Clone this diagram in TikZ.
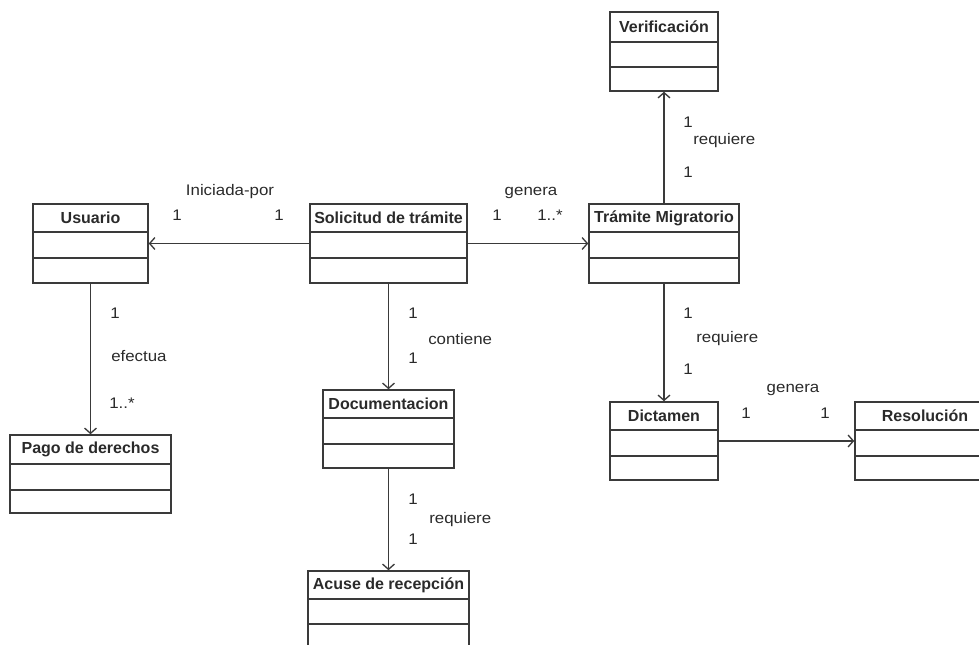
\documentclass[tikz,border=0pt]{standalone}
\usepackage{fontspec}
\setmainfont{Liberation Sans}
\newfontfamily\labelfont{Liberation Sans}[FakeStretch=1.1]
\usetikzlibrary{arrows.meta,fit}

\definecolor{linegray}{HTML}{3A3A3A}
\definecolor{textgray}{HTML}{2A2A2A}

\tikzset{
  classbox/.style={draw=linegray, line width=1.1pt, inner sep=0pt},
  divider/.style={draw=linegray, line width=1.1pt},
  classname/.style={font=\fontsize{12}{14}\selectfont\bfseries, text=textgray, inner sep=0pt},
  assoc/.style={draw=linegray, line width=1pt, -{Straight Barb[length=4pt,width=9pt]}},
  rolelabel/.style={font=\labelfont\fontsize{11.5}{13}\selectfont, text=textgray, inner sep=0pt},
}

% UML class with a name compartment and two empty compartments
% #1 name, #2 left, #3 top, #4 right, #5 bottom, #6 first divider, #7 second divider, #8 title
\newcommand\umlclass[8]{%
  \coordinate (#1-nw) at (#2,#3);
  \coordinate (#1-se) at (#4,#5);
  \node[classbox, fit=(#1-nw)(#1-se)] (#1) {};
  \draw[divider] (#2,#6) -- (#4,#6) (#2,#7) -- (#4,#7);
  \node[classname] (#1-title) at ({(#2+#4)/2},{(#3+#6)/2}) {#8};
}

\begin{document}
\begin{tikzpicture}[x=0.75pt,y=-0.75pt]
  \useasboundingbox (0,0) rectangle (979,645);
  \clip (0,0) rectangle (979,645);

  % classes
  \umlclass{verif}{610}{12}{718}{91}{42}{67}{Verificación}
  \umlclass{usu}{33}{204}{148}{283}{232}{258}{Usuario}
  \umlclass{sol}{310}{204}{467}{283}{232}{258}{Solicitud de trámite}
  \umlclass{tram}{589}{204}{739}{283}{232}{258}{Trámite Migratorio}
  \umlclass{pago}{10}{435}{171}{513}{464}{490}{Pago de derechos}
  \umlclass{doc}{323}{390}{454}{468}{418}{444}{Documentacion}
  \umlclass{dict}{610}{402}{718}{480}{430}{456}{Dictamen}
  \umlclass{res}{855}{402}{995}{480}{430}{456}{Resolución}
  \umlclass{acuse}{308}{571}{469}{665}{599}{624}{Acuse de recepción}

  % associations
  \draw[assoc] (sol) -- (usu);
  \draw[assoc] (sol) -- (tram);
  \draw[assoc] (tram.north) -- (verif.south);
  \draw[assoc] (usu.south) -- (pago.north);
  \draw[assoc] (sol.south) -- (doc.north);
  \draw[assoc] (doc.south) -- (acuse.north);
  \draw[assoc] (tram.south) -- (dict.north);
  \draw[assoc] (dict) -- (res);

  % association names and multiplicities
  \node[rolelabel] (l-ini)  at (230,192) {Iniciada-por};
  \node[rolelabel] (l-ini1) at (177,215) {1};
  \node[rolelabel] (l-ini2) at (279,215) {1};

  \node[rolelabel] (l-gen)  at (531,193) {genera};
  \node[rolelabel] (l-gen1) at (497,215) {1};
  \node[rolelabel] (l-gen2) at (550,215) {1..*};

  \node[rolelabel] (l-ver1) at (688,122) {1};
  \node[rolelabel, anchor=west] (l-ver) at (693,141) {requiere};
  \node[rolelabel] (l-ver2) at (688,172) {1};

  \node[rolelabel] (l-efe1) at (115,313) {1};
  \node[rolelabel, anchor=west] (l-efe) at (111,356) {efectua};
  \node[rolelabel] (l-efe2) at (122,403) {1..*};

  \node[rolelabel] (l-con1) at (413,313) {1};
  \node[rolelabel, anchor=west] (l-con) at (428,339) {contiene};
  \node[rolelabel] (l-con2) at (413,358) {1};

  \node[rolelabel] (l-acu1) at (413,499) {1};
  \node[rolelabel, anchor=west] (l-acu) at (429,520) {requiere};
  \node[rolelabel] (l-acu2) at (413,539) {1};

  \node[rolelabel] (l-dic1) at (688,313) {1};
  \node[rolelabel, anchor=west] (l-dic) at (696,339) {requiere};
  \node[rolelabel] (l-dic2) at (688,369) {1};

  \node[rolelabel] (l-res)  at (793,390) {genera};
  \node[rolelabel] (l-res1) at (746,413) {1};
  \node[rolelabel] (l-res2) at (825,413) {1};
\end{tikzpicture}
\end{document}
